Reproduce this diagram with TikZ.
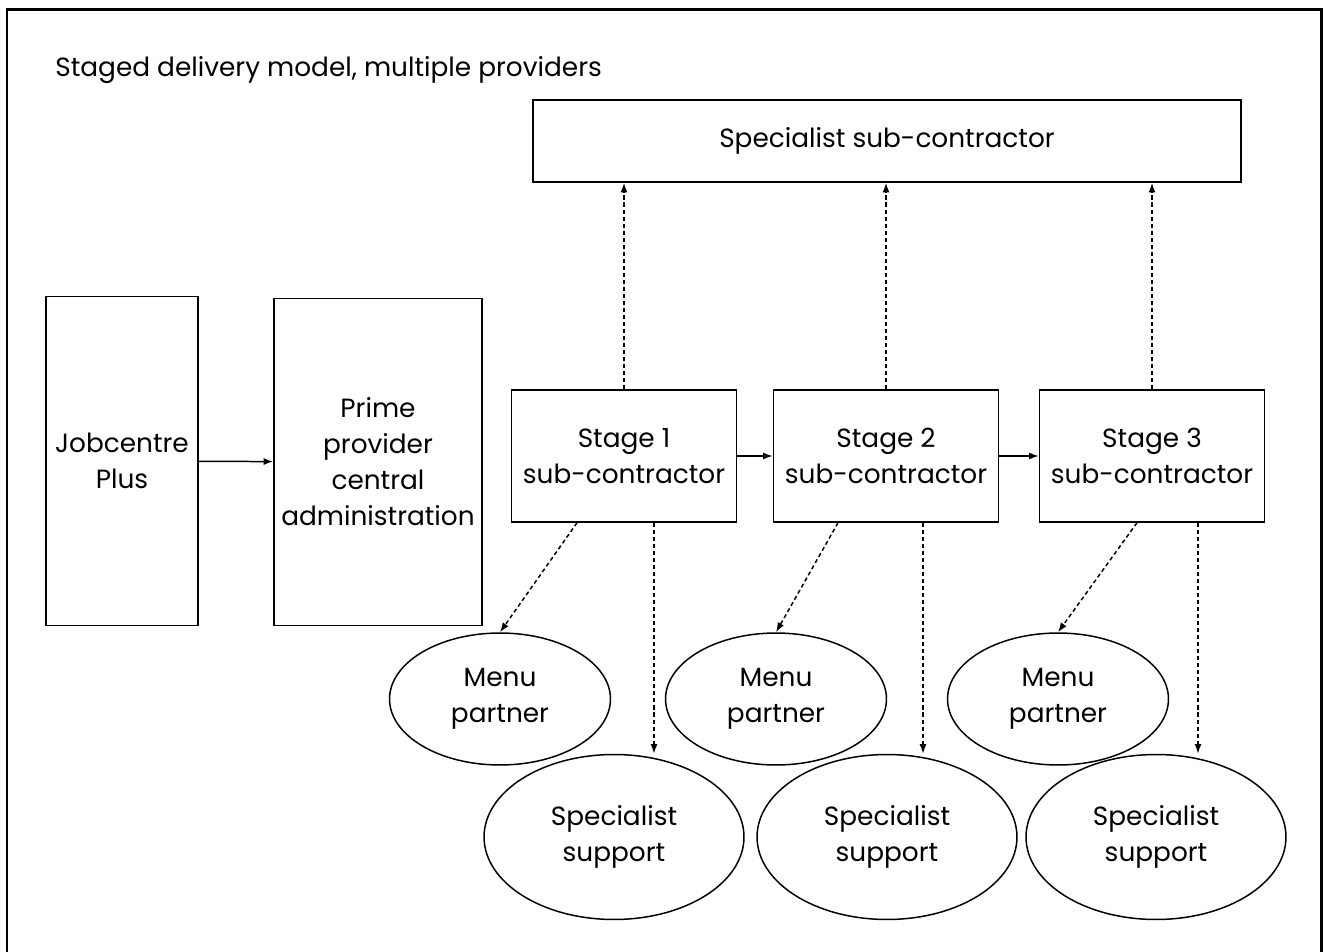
\documentclass[tikz,border=0pt]{standalone}
\usepackage{fontspec}
\setmainfont{Poppins}
\usetikzlibrary{calc,positioning,arrows.meta,shapes.geometric}

\newcommand{\lbl}{\fontsize{15}{20.5}\selectfont}

\tikzset{
  box/.style={draw, line width=0.85pt, align=center, font=\lbl, inner sep=0pt},
  stagebox/.style={box, minimum width=4.5cm, minimum height=2.64cm},
  oval/.style={draw, ellipse, line width=0.85pt, align=center, font=\lbl, inner sep=0pt},
  menuoval/.style={oval, minimum width=4.42cm, minimum height=2.64cm},
  suppoval/.style={oval, minimum width=5.2cm, minimum height=3.3cm},
  solidarrow/.style={line width=0.85pt, -{Latex[length=5.5pt,width=4pt]}},
  dotarrow/.style={line width=0.85pt, dash pattern=on 2.3pt off 1.7pt, -{Latex[length=5.5pt,width=4pt]}}
}

\begin{document}
\begin{tikzpicture}[x=0.02cm, y=-0.02cm]
  \useasboundingbox (0,0) rectangle (1324,952);
  % frame, open at the bottom
  \draw[line width=1.7pt] (7,952) -- (7,10) -- (1321,10) -- (1321,952);
  \node[anchor=west, font=\lbl, inner sep=0pt] (title) at (55,70) {Staged delivery model, multiple providers};

  % top box
  \node[box, minimum width=14.16cm, minimum height=1.64cm] (spec) at (887,141) {Specialist sub-contractor};

  % left boxes
  \node[box, minimum width=3.04cm, minimum height=6.58cm] (jcp) at (122,461) {Jobcentre\\Plus};
  \node[box, minimum width=4.16cm, minimum height=6.54cm] (prime) at (378,462) {Prime\\provider\\central\\administration};

  % stages
  \node[stagebox] (stage1) at (624,456) {Stage 1\\sub-contractor};
  \node[stagebox] (stage2) at (886,456) {Stage 2\\sub-contractor};
  \node[stagebox] (stage3) at (1152,456) {Stage 3\\sub-contractor};

  % partners and support
  \node[menuoval] (menu1) at (500,699) {Menu\\partner};
  \node[menuoval] (menu2) at (776,699) {Menu\\partner};
  \node[menuoval] (menu3) at (1058,699) {Menu\\partner};
  \node[suppoval] (supp1) at (614,837) {Specialist\\support};
  \node[suppoval] (supp2) at (887,837) {Specialist\\support};
  \node[suppoval] (supp3) at (1156,837) {Specialist\\support};

  % flow
  \draw[solidarrow] (jcp) -- (prime);
  \draw[solidarrow] (stage1) -- (stage2);
  \draw[solidarrow] (stage2) -- (stage3);

  % dotted links
  \foreach \i/\a/\b in {1/-47/30, 2/-48/37, 3/-15/46} {
    \draw[dotarrow] (stage\i) -- (stage\i |- spec.south);
    \coordinate (d\i) at ($(stage\i.south)+(\a,0)$);
    \coordinate (v\i) at ($(stage\i.south)+(\b,0)$);
    \draw[dotarrow] (d\i) -- (menu\i.north);
    \draw[dotarrow] (v\i) -- (v\i |- supp\i.north);
  }
\end{tikzpicture}
\end{document}
